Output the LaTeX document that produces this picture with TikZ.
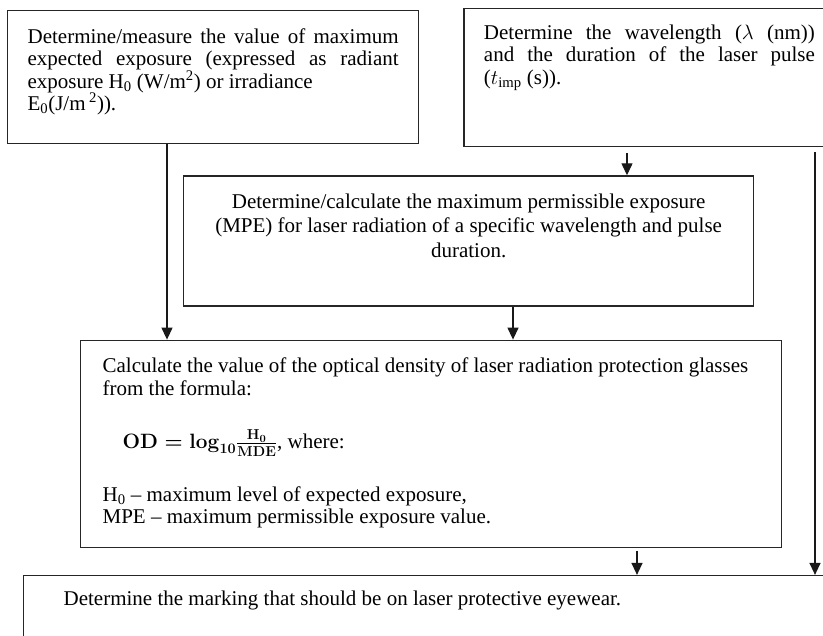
\documentclass[tikz,border=0pt]{standalone}
\usepackage{fontspec}
\setmainfont{Liberation Serif}
\usetikzlibrary{arrows.meta,positioning}
\newcommand{\boxpar}[4]{\parbox[c][#2pt][t]{#1pt}{\vspace*{#3pt}\strut #4}}

\begin{document}
\begin{tikzpicture}[x=1pt,y=-1pt,>={Triangle[length=12pt,width=11pt]},
		stepbox/.style={draw=black!85,line width=1.3pt,anchor=north west,inner xsep=20pt,inner ysep=0pt,font=\fontsize{21}{22.4}\selectfont},
		flow/.style={->,black!90,line width=1.3pt}]
		\path[use as bounding box,clip] (0,0) rectangle (823,636);

		\node[stepbox] (box1) at (7,10) {\boxpar{371}{133}{17}{Determine/measure the value of maximum \linebreak expected exposure (expressed as radiant \linebreak exposure H\textsubscript{0} (W/m\textsuperscript{2}) or irradiance\\ E\textsubscript{0}(J/m\,\textsuperscript{2})).}};
		\node[stepbox] (box2) [below right=-2pt and 44pt of box1.north east] {\boxpar{331}{138}{15}{Determine the wavelength ($\lambda$ (nm)) \linebreak and the duration of the laser pulse \linebreak ($t_{\mathrm{imp}}$ (s)).}};
		\node[stepbox,font=\fontsize{21}{24.5}\selectfont] (box3) [below right=31pt and 176pt of box1.south west] {\boxpar{530}{130}{15}{\centering Determine/calculate the maximum permissible exposure\\ (MPE) for laser radiation of a specific wavelength and pulse\\ duration.}};
		\node[stepbox,inner xsep=22pt] (box4) [below right=33pt and -103pt of box3.south west] {\boxpar{657}{207}{17}{Calculate the value of the optical density of laser radiation protection glasses\\ from the formula:\\[31pt]
			\hspace*{20pt}{\boldmath$\mathbf{OD}=\mathbf{log}_{\mathbf{10}}\frac{\mathbf{H_0}}{\mathbf{MDE}}$}, where:\\[29pt]
			H\textsubscript{0} \textendash{} maximum level of expected exposure,\\
			MPE \textendash{} maximum permissible exposure value.}};
		\node[stepbox,inner xsep=40pt] (box5) [below right=27pt and -57pt of box4.south west] {\boxpar{740}{64}{14}{Determine the marking that should be on laser protective eyewear.}};

		% x positions of the arrows
		\coordinate (xa) at (167,0);
		\coordinate (xb) at (627,0);
		\coordinate (xc) at (513,0);
		\coordinate (xd) at (637,0);
		\coordinate (xe) at (815,0);

		\path[flow]
		(xa |- box1.south) edge (xa |- box4.north)
		(xb |- box2.south) edge [shorten <=6pt] (xb |- box3.north)
		(xc |- box3.south) edge (xc |- box4.north)
		(xd |- box4.south) edge [shorten <=3pt] (xd |- box5.north)
		(xe |- box2.south) edge [shorten <=5pt] (xe |- box5.north)
		;
	\end{tikzpicture}
\end{document}
